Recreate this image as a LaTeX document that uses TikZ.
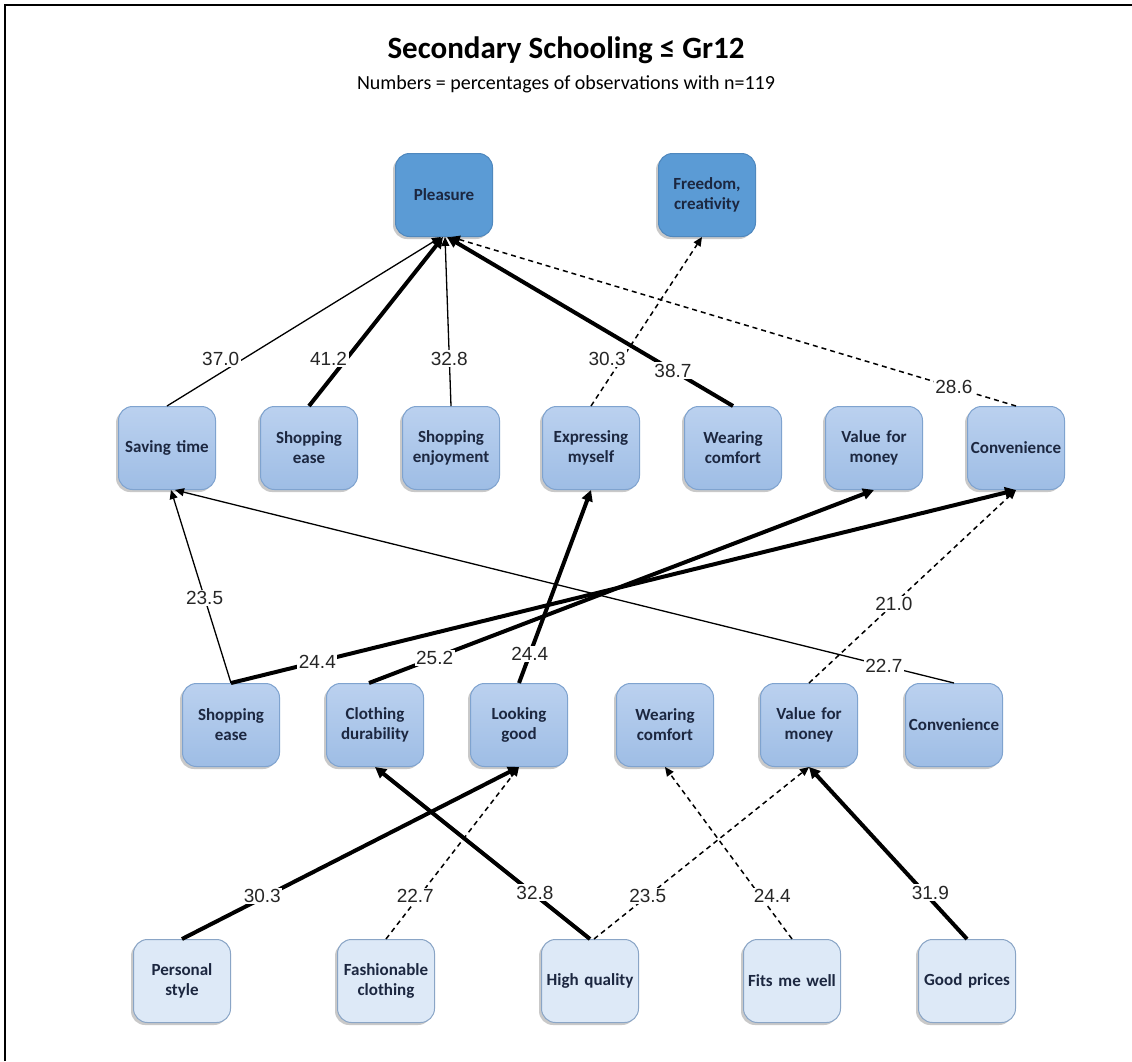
\documentclass[tikz,border=0pt]{standalone}
\usepackage{fontspec}
\setmainfont{Carlito}
\newfontfamily\numfont{Liberation Sans}
\usetikzlibrary{arrows.meta,shadows}

\definecolor{topfill}{HTML}{5B9BD5}
\definecolor{topedge}{HTML}{4F88BE}
\definecolor{midtop}{HTML}{BBD1EF}
\definecolor{midbot}{HTML}{9EBDE5}
\definecolor{midedge}{HTML}{7FA3CF}
\definecolor{lowfill}{HTML}{DDE9F7}
\definecolor{lowedge}{HTML}{8AA5C6}
\definecolor{inktext}{HTML}{1C2740}

\begin{document}
\begin{tikzpicture}[x=1pt,y=-1pt,
  box/.style={rounded corners=14pt, minimum width=97pt, minimum height=83pt,
    text width=94pt, align=center, inner sep=1.5pt,
    font=\fontsize{17}{20}\selectfont\bfseries, text=inktext, line width=1pt,
    drop shadow={shadow xshift=-2.5pt, shadow yshift=-2.5pt, opacity=0.35, fill=black!60}},
  goal/.style={box, fill=topfill, draw=topedge},
  cons/.style={box, top color=midtop, bottom color=midbot, draw=midedge},
  attr/.style={box, fill=lowfill, draw=lowedge},
  link/.style={-{Triangle[length=9pt,width=8pt]}, line width=1.3pt},
  strong/.style={-{Triangle[length=11pt,width=11pt]}, line width=4pt},
  weak/.style={link, line width=1.5pt, dash pattern=on 5pt off 4pt},
  lab/.style={fill=white, inner sep=1.5pt, font=\numfont\fontsize{19}{19}\selectfont, text=black!85}
]
\useasboundingbox (0,0) rectangle (1132,1061);
\fill[white] (0,0) rectangle (1132,1061);

% frame
\draw[line width=2.5pt] (5,1061) -- (5,5) -- (1132,5);

% headings
\node (title) at (566,50) {\fontsize{31}{31}\selectfont\bfseries Secondary Schooling ≤ Gr12};
\node (sub) at (566,84) {\fontsize{20}{20}\selectfont Numbers = percentages of observations with n=119};

% values
\node[goal] (Pl) at (444,195) {Pleasure};
\node[goal] (Fr) at (707,195) {Freedom,\\creativity};

% psychosocial consequences
\node[cons] (ST)  at (167,448) {Saving time};
\node[cons] (SE2) at (309,448) {Shopping\\ease};
\node[cons] (Enj) at (451,448) {Shopping\\enjoyment};
\node[cons] (Ex)  at (591,448) {Expressing\\myself};
\node[cons] (WC2) at (733,448) {Wearing\\comfort};
\node[cons] (VM2) at (874,448) {Value for\\money};
\node[cons] (CV2) at (1016,448) {Convenience};

% functional consequences
\node[cons] (SE3) at (231,725) {Shopping\\ease};
\node[cons] (CD)  at (375,725) {Clothing\\durability};
\node[cons] (LG)  at (519,725) {Looking\\good};
\node[cons] (WC3) at (665,725) {Wearing\\comfort};
\node[cons] (VM3) at (809,725) {Value for\\money};
\node[cons] (CV3) at (954,725) {Convenience};

% attributes
\node[attr] (PS)  at (182,981) {Personal\\style};
\node[attr] (FC)  at (386,981) {Fashionable\\clothing};
\node[attr] (HQ)  at (590,981) {High quality};
\node[attr] (FW)  at (792,981) {Fits me well};
\node[attr] (GP)  at (967,981) {Good prices};

% links to the values
\draw[link]   (ST.north)  -- ([xshift=-3pt]Pl.south) node[lab,pos=.28,xshift=-23pt] {37.0};
\draw[strong] (SE2.north) -- ([xshift=-1pt]Pl.south) node[lab,pos=.28,xshift=-18pt] {41.2};
\draw[link]   (Enj.north) -- ([xshift=1pt]Pl.south)  node[lab,pos=.28] {32.8};
\draw[weak]   (Ex.north)  -- ([xshift=-5pt]Fr.south) node[lab,pos=.28,xshift=-15pt] {30.3};
\draw[strong] (WC2.north) -- ([xshift=3pt]Pl.south)  node[lab,pos=.21] {38.7};
\draw[weak]   (CV2.north) -- ([xshift=7pt]Pl.south)  node[lab,pos=.11] {28.6};

% links to the psychosocial consequences
\draw[link]   (SE3.north) -- ([xshift=4pt]ST.south)  node[lab,pos=.44] {23.5};
\draw[strong] (SE3.north) -- (CV2.south)             node[lab,pos=.11] {24.4};
\draw[strong] ([xshift=-6pt]CD.north) -- (VM2.south) node[lab,pos=.13] {25.2};
\draw[strong] (LG.north)  -- (Ex.south)              node[lab,pos=.15] {24.4};
\draw[link]   (CV3.north) -- ([xshift=8pt]ST.south)  node[lab,pos=.09] {22.7};
\draw[weak]   (VM3.north) -- (CV2.south)             node[lab,pos=.41] {21.0};

% links to the functional consequences
\draw[strong] (PS.north)  -- (LG.south)  node[lab,pos=.25,xshift=-4pt] {30.3};
\draw[weak]   (FC.north)  -- (LG.south)  node[lab,pos=.25,xshift=-4pt] {22.7};
\draw[strong] (HQ.north)  -- (CD.south)  node[lab,pos=.27,xshift=3pt] {32.8};
\draw[weak]   ([xshift=4pt]HQ.north) -- (VM3.south) node[lab,pos=.25] {23.5};
\draw[weak]   (FW.north)  -- (WC3.south) node[lab,pos=.25,xshift=12pt] {24.4};
\draw[strong] (GP.north)  -- (VM3.south) node[lab,pos=.27,xshift=6pt] {31.9};
\end{tikzpicture}
\end{document}
